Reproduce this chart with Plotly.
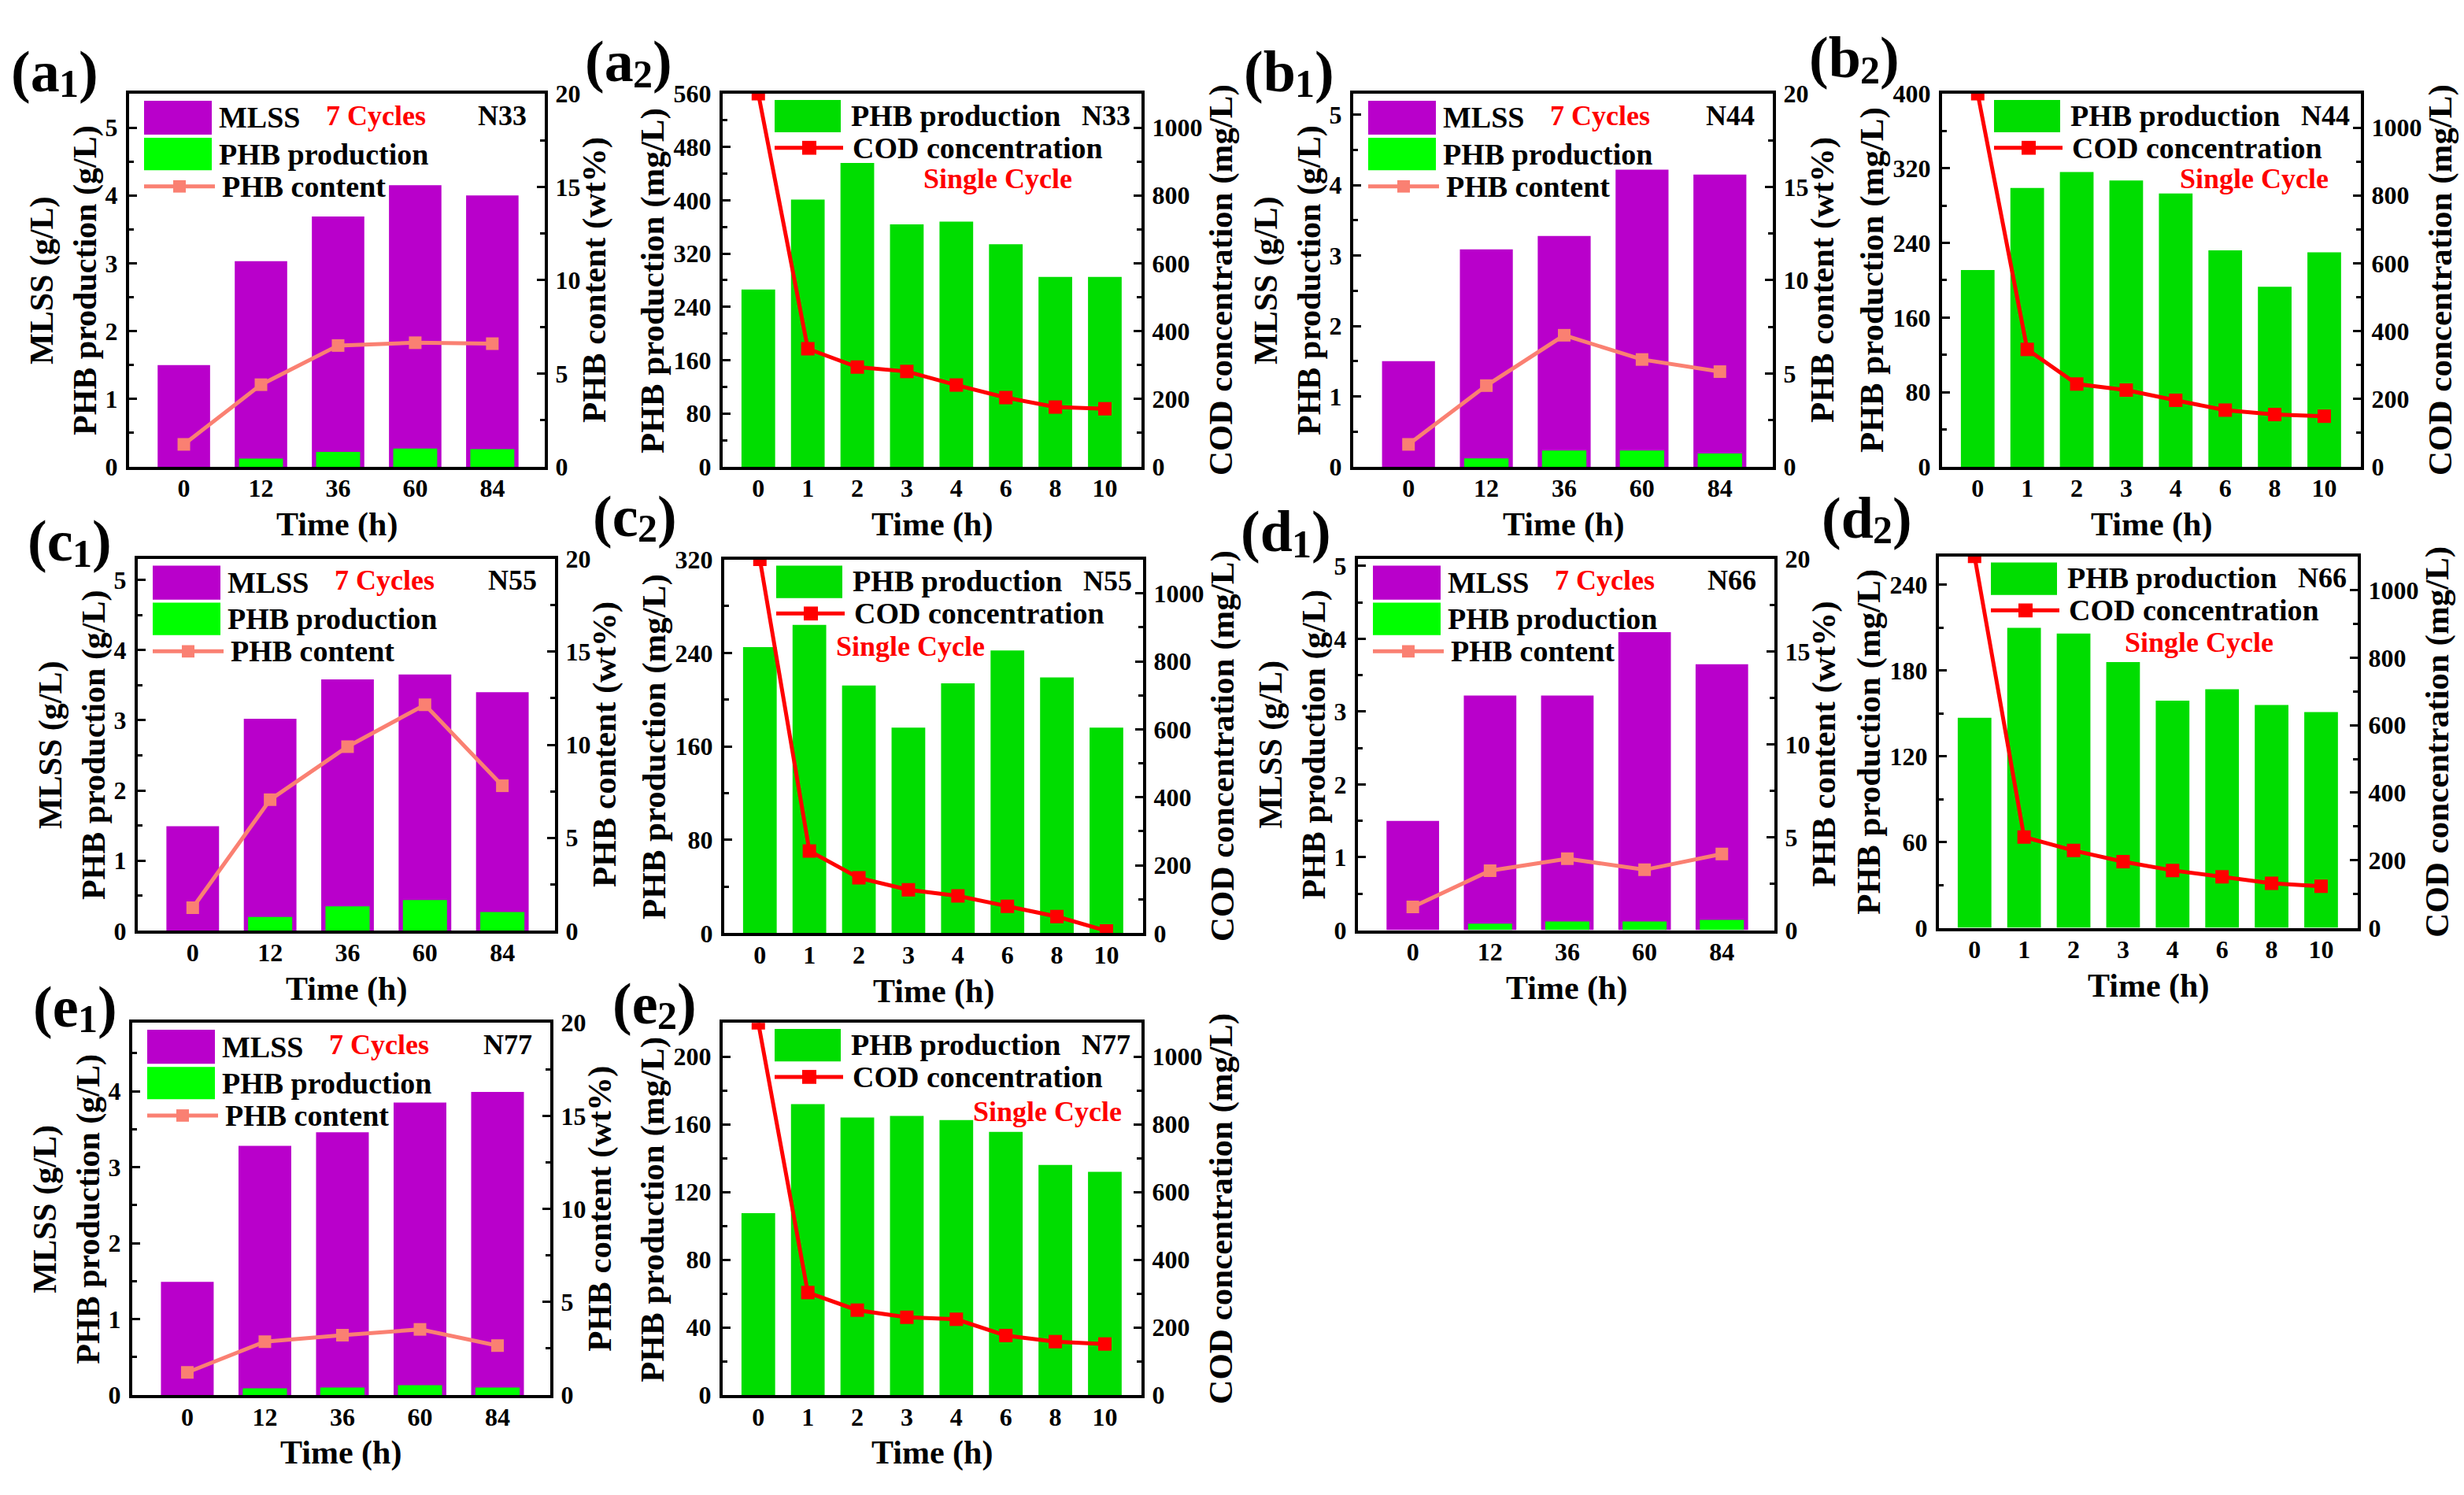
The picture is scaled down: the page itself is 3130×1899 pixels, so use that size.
import plotly.graph_objects as go

W, H = 3130, 1899

# ---------------- data ----------------
times_multi = ["0", "12", "36", "60", "84"]          # h (7 cycles)
times_single = ["0", "1", "2", "3", "4", "6", "8", "10"]  # h (single cycle)
samples = ["N33", "N44", "N55", "N66", "N77"]

mlss_n33 = [1.50, 3.03, 3.69, 4.15, 4.00]
phb_gl_n33 = [0.0, 0.12, 0.22, 0.27, 0.26]
content_n33 = [1.2, 4.4, 6.5, 6.65, 6.6]
phb_mgl_n33 = [266, 401, 456, 364, 368, 334, 285, 285]
cod_n33 = [1100, 348, 294, 281, 241, 204, 176, 171]

mlss_n44 = [1.50, 3.09, 3.28, 4.22, 4.15]
phb_gl_n44 = [0.0, 0.12, 0.23, 0.23, 0.19]
content_n44 = [1.2, 4.35, 7.05, 5.75, 5.1]
phb_mgl_n44 = [211, 299, 316, 307, 293, 232, 193, 230]
cod_n44 = [1100, 346, 244, 226, 196, 167, 154, 149]

mlss_n55 = [1.49, 3.02, 3.58, 3.65, 3.40]
phb_gl_n55 = [0.0, 0.20, 0.35, 0.44, 0.27]
content_n55 = [1.25, 7.05, 9.9, 12.15, 7.8]
phb_mgl_n55 = [245, 264, 212, 176, 214, 242, 219, 176]
cod_n55 = [1100, 242, 163, 128, 110, 79, 49, 7]

mlss_n66 = [1.50, 3.22, 3.22, 4.09, 3.65]
phb_gl_n66 = [0.0, 0.09, 0.12, 0.12, 0.14]
content_n66 = [1.25, 3.2, 3.85, 3.25, 4.1]
phb_mgl_n66 = [147, 210, 206, 186, 159, 167, 156, 151]
cod_n66 = [1100, 269, 229, 196, 170, 151, 132, 123]

mlss_n77 = [1.49, 3.28, 3.46, 3.85, 3.99]
phb_gl_n77 = [0.0, 0.09, 0.10, 0.13, 0.10]
content_n77 = [1.22, 2.87, 3.22, 3.53, 2.66]
phb_mgl_n77 = [107.5, 172, 164, 165, 162.5, 155.6, 136, 132]
cod_n77 = [1100, 303, 251, 230, 224, 176, 158, 151]

multi_sets = [
    ("a", mlss_n33, phb_gl_n33, content_n33),
    ("b", mlss_n44, phb_gl_n44, content_n44),
    ("c", mlss_n55, phb_gl_n55, content_n55),
    ("d", mlss_n66, phb_gl_n66, content_n66),
    ("e", mlss_n77, phb_gl_n77, content_n77),
]
single_sets = [
    ("a", phb_mgl_n33, cod_n33),
    ("b", phb_mgl_n44, cod_n44),
    ("c", phb_mgl_n55, cod_n55),
    ("d", phb_mgl_n66, cod_n66),
    ("e", phb_mgl_n77, cod_n77),
]

# ---------------- layout geometry (pixels) ----------------
multi_geom = {
    "a": dict(L=164, R=692, T=103, B=586, ymax=5.5, lab=(68, 74)),
    "b": dict(L=1719, R=2252, T=103, B=586, ymax=5.3, lab=(1636, 74)),
    "c": dict(L=175, R=705, T=705, B=1187, ymax=5.3, lab=(87, 682)),
    "d": dict(L=1725, R=2254, T=705, B=1186, ymax=5.1, lab=(1632, 670)),
    "e": dict(L=168, R=699, T=1306, B=1788, ymax=4.9, lab=(94, 1285)),
}
single_geom = {
    "a": dict(L=918, R=1450, T=103, B=586, ymax=560, dt=80, lab=(797, 61), sc=(349, 110)),
    "b": dict(L=2467, R=2999, T=103, B=586, ymax=400, dt=80, lab=(2354, 56), sc=(396, 110)),
    "c": dict(L=920, R=1452, T=706, B=1190, ymax=320, dt=80, lab=(805, 650), sc=(236, 113)),
    "d": dict(L=2463, R=2995, T=702, B=1183, ymax=260, dt=60, lab=(2370, 652), sc=(330, 111)),
    "e": dict(L=918, R=1450, T=1306, B=1788, ymax=220, dt=40, lab=(830, 1281), sc=(412, 115)),
}
letter_w = {"a": 0.5, "b": 0.556, "c": 0.444, "d": 0.556, "e": 0.444}

PURPLE = "#B900CB"
GREEN1 = "#00FF00"
GREEN2 = "#00DD00"
SALMON = "#FA8072"
RED = "#FF0000"
FONT = "Liberation Serif"


def fx(x):
    return x / W


def fy(y):
    return 1 - y / H


fig = go.Figure()
layout = dict(
    width=W, height=H, margin=dict(l=0, r=0, t=0, b=0),
    paper_bgcolor="white", plot_bgcolor="white",
    barmode="overlay", showlegend=False,
    font=dict(family=FONT, size=32, color="black", weight="bold"),
)
annotations = []
shapes = []


def ann(text, x, y, size, color="black", angle=0, xanchor="center", yanchor="middle"):
    annotations.append(dict(
        text=text, x=fx(x), y=fy(y), xref="paper", yref="paper",
        showarrow=False, textangle=angle, xanchor=xanchor, yanchor=yanchor,
        font=dict(family=FONT, size=size, color=color, weight="bold"),
    ))


def panel_label(letter, num, cx, cy):
    big, small = 74, 50
    w1 = (0.333 + letter_w[letter]) * big
    w2 = 0.5 * small
    w3 = 0.333 * big
    x0 = cx - (w1 + w2 + w3) / 2
    ann("(" + letter, x0, cy, big, xanchor="left")
    ann(num, x0 + w1 - 1, cy + 16, small, xanchor="left")
    ann(")", x0 + w1 + w2 - 1, cy, big, xanchor="left")


def axis_common():
    return dict(showline=True, linewidth=4, linecolor="black", showgrid=False,
                zeroline=False, fixedrange=True,
                tickfont=dict(family=FONT, size=32, color="black", weight="bold"))


def add_axes(idx, g, xcats, xrange, lrange, ldt, rrange, rdt):
    xa = axis_common()
    xa.update(domain=[fx(g["L"]), fx(g["R"])], anchor=f"y{2*idx-1}", type="category",
              categoryorder="array", categoryarray=xcats, range=xrange, mirror=True,
              ticks="", ticklabelstandoff=-4)
    yl = axis_common()
    yl.update(domain=[fy(g["B"]), fy(g["T"])], anchor=f"x{idx}", range=lrange, dtick=ldt,
              tick0=0, ticks="inside", ticklen=10, tickwidth=3, tickcolor="black",
              minor=dict(dtick=ldt / 2, ticks="inside", ticklen=6, tickwidth=3, tickcolor="black"),
              ticklabelstandoff=4)
    yr = axis_common()
    yr.update(overlaying=f"y{2*idx-1}", side="right", anchor=f"x{idx}", range=rrange, dtick=rdt,
              tick0=0, ticks="inside", ticklen=10, tickwidth=3, tickcolor="black",
              minor=dict(dtick=rdt / 2, ticks="inside", ticklen=6, tickwidth=3, tickcolor="black"),
              ticklabelstandoff=3)
    layout[f"xaxis{'' if idx == 1 else idx}"] = xa
    layout[f"yaxis{'' if idx == 1 else 2*idx-1}"] = yl
    layout[f"yaxis{2*idx}"] = yr


idx = 0
for k in range(5):
    key, mlss, phb_gl, content = multi_sets[k]
    _, phb_mgl, cod = single_sets[k]
    name = samples[k]

    # ---- 7-cycle panel ----
    idx += 1
    g = multi_geom[key]
    add_axes(idx, g, times_multi, [-0.71, 4.68], [0, g["ymax"]], 1, [0, 20], 5)
    xa, yl, yr = f"x{idx}", f"y{2*idx-1}", f"y{2*idx}"
    fig.add_trace(go.Bar(x=times_multi, y=mlss, width=0.68, marker=dict(color=PURPLE, line=dict(width=0)),
                         name="MLSS", xaxis=xa, yaxis=yl))
    fig.add_trace(go.Bar(x=times_multi, y=phb_gl, width=0.57, marker=dict(color=GREEN1, line=dict(width=0)),
                         name="PHB production", xaxis=xa, yaxis=yl))
    fig.add_trace(go.Scatter(x=times_multi, y=content, mode="lines+markers", name="PHB content",
                             line=dict(color=SALMON, width=5),
                             marker=dict(symbol="square", size=16, color=SALMON),
                             xaxis=xa, yaxis=yr))
    L, R, T, B = g["L"], g["R"], g["T"], g["B"]
    # legend swatches
    shapes.append(dict(type="rect", xref="paper", yref="paper", x0=fx(L+19), x1=fx(L+105),
                       y0=fy(T+53), y1=fy(T+9), fillcolor=PURPLE, line=dict(width=0)))
    shapes.append(dict(type="rect", xref="paper", yref="paper", x0=fx(L+19), x1=fx(L+105),
                       y0=fy(T+99), y1=fy(T+57), fillcolor=GREEN1, line=dict(width=0)))
    shapes.append(dict(type="line", xref="paper", yref="paper", x0=fx(L+19), x1=fx(L+109),
                       y0=fy(T+120), y1=fy(T+120), line=dict(color=SALMON, width=5)))
    shapes.append(dict(type="rect", xref="paper", yref="paper", x0=fx(L+56), x1=fx(L+72),
                       y0=fy(T+128), y1=fy(T+112), fillcolor=SALMON, line=dict(width=0)))
    ann("MLSS", L+112, T+31, 38, xanchor="left")
    ann("PHB production", L+112, T+78, 38, xanchor="left")
    ann("PHB content", L+116, T+120, 38, xanchor="left")
    ann("7 Cycles", L+313, T+28, 36, color=RED)
    ann(name, R-54, T+28, 36)
    # axis titles
    cy = (T + B) / 2
    ann("MLSS (g/L)<br>PHB production (g/L)", L-83, cy, 42, angle=-90)
    ann("PHB content (wt%)", R+63, cy, 43, angle=-90)
    ann("Time (h)", (L+R)/2, B+75, 42)
    panel_label(key, "1", g["lab"][0], g["lab"][1])

    # ---- single-cycle panel ----
    idx += 1
    g = single_geom[key]
    add_axes(idx, g, times_single, [-0.72, 7.74], [0, g["ymax"]], g["dt"], [0, 1100], 200)
    xa, yl, yr = f"x{idx}", f"y{2*idx-1}", f"y{2*idx}"
    fig.add_trace(go.Bar(x=times_single, y=phb_mgl, width=0.68, marker=dict(color=GREEN2, line=dict(width=0)),
                         name="PHB production", xaxis=xa, yaxis=yl))
    fig.add_trace(go.Scatter(x=times_single, y=cod, mode="lines+markers", name="COD concentration",
                             line=dict(color=RED, width=5),
                             marker=dict(symbol="square", size=17, color=RED),
                             xaxis=xa, yaxis=yr))
    L, R, T, B = g["L"], g["R"], g["T"], g["B"]
    shapes.append(dict(type="rect", xref="paper", yref="paper", x0=fx(L+66), x1=fx(L+150),
                       y0=fy(T+50), y1=fy(T+8), fillcolor=GREEN2, line=dict(width=0)))
    shapes.append(dict(type="line", xref="paper", yref="paper", x0=fx(L+66), x1=fx(L+153),
                       y0=fy(T+70), y1=fy(T+70), line=dict(color=RED, width=5)))
    shapes.append(dict(type="rect", xref="paper", yref="paper", x0=fx(L+101), x1=fx(L+119),
                       y0=fy(T+79), y1=fy(T+61), fillcolor=RED, line=dict(width=0)))
    ann("PHB production", L+161, T+28, 38, xanchor="left")
    ann(name, R-45, T+28, 36)
    ann("COD concentration", L+163, T+70, 38, xanchor="left")
    ann("Single Cycle", L+g["sc"][0], T+g["sc"][1], 36, color=RED)
    cy = (T + B) / 2
    ann("PHB production (mg/L)", L-89, cy, 43, angle=-90)
    ann("COD concentration (mg/L)", R+101, cy, 43, angle=-90)
    ann("Time (h)", (L+R)/2, B+75, 42)
    panel_label(key, "2", g["lab"][0], g["lab"][1])

layout["annotations"] = annotations
layout["shapes"] = shapes
fig.update_layout(**layout)
fig.write_html("out.html")
